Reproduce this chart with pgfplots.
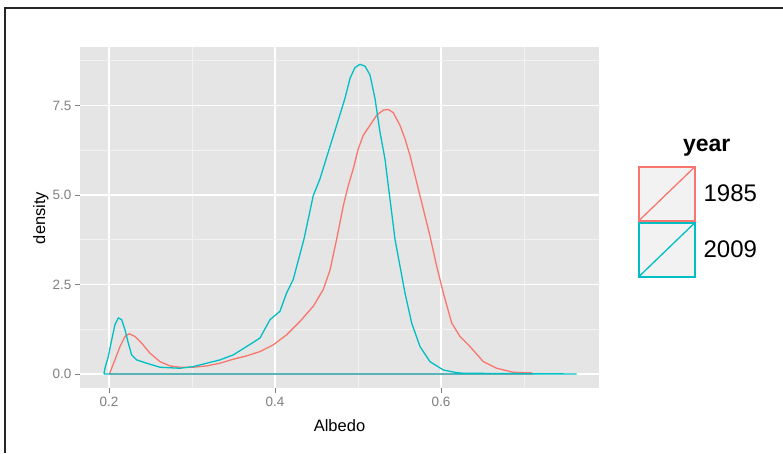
\documentclass[border=0pt]{standalone}
\usepackage{pgfplots}
\pgfplotsset{compat=1.18}
\usepackage{fontspec}
\setmainfont{Liberation Sans}
\definecolor{ggred}{HTML}{F8766D}
\definecolor{ggcyan}{HTML}{00BFC4}
\definecolor{ggbg}{HTML}{E5E5E5}
\definecolor{ggminor}{HTML}{F2F2F2}
\definecolor{ggtick}{HTML}{7F7F7F}
\definecolor{keybg}{HTML}{F2F2F2}
\begin{document}
\begin{tikzpicture}[x=1pt,y=1pt]
\path[use as bounding box] (0,0) rectangle (783,453);
\draw[line width=2pt, black!85] (5,0) -- (5,444.5) -- (783,444.5);
\begin{axis}[
  at={(80pt,64.7pt)}, anchor=south west,
  width=519pt, height=340.8pt, scale only axis,
  xmin=0.1651, xmax=0.7904, ymin=-0.40, ymax=9.12,
  axis background/.style={fill=ggbg},
  axis line style={draw=none},
  xtick pos=bottom, ytick pos=left,
  xtick={0.2,0.4,0.6}, ytick={0,2.5,5,7.5},
  minor xtick={0.3,0.5,0.7}, minor ytick={1.25,3.75,6.25,8.75},
  grid=both,
  major grid style={white, line width=1.3pt},
  minor grid style={ggminor, line width=0.6pt},
  tick align=outside, major tick length=5pt, minor tick length=0pt,
  tick style={ggtick, line width=0.8pt},
  ticklabel style={font=\fontsize{13.5}{16}\selectfont, text=ggtick},
  /pgf/number format/.cd, fixed, fixed zerofill, precision=1, assume math mode=true,
  /pgfplots/.cd,
  xlabel={Albedo}, ylabel={density},
  label style={font=\fontsize{16.5}{19}\selectfont},
  xlabel style={at={(axis description cs:0.5,0)}, anchor=base, yshift=-43.4pt},
  ylabel style={at={(axis description cs:-0.0674,0.5)}, anchor=base},
  legend image code/.code={
    \draw[#1, fill=keybg, line width=1.9pt] (0pt,-27pt) rectangle (56pt,27pt);
    \draw[#1, line width=1.3pt] (0pt,-27pt) -- (56pt,27pt);
  },
  legend style={at={(axis description cs:1.0746,0.6523)}, anchor=north west,
    draw=none, fill=none, inner sep=0pt, outer sep=0pt, row sep=0pt, column sep=8pt,
    font=\fontsize{24}{28}\selectfont, nodes={inner sep=0pt, anchor=west}},
  legend cell align=left,
]
\addplot[ggred, line width=1.3pt] coordinates {
(0.2005,0) (0.2072,0.393) (0.2133,0.767) (0.2193,1.048) (0.2245,1.124) (0.2313,1.048)
(0.2394,0.862) (0.2494,0.581) (0.2614,0.346) (0.2735,0.225) (0.2855,0.188) (0.3016,0.188)
(0.3177,0.225) (0.3337,0.301) (0.3498,0.413) (0.3659,0.506) (0.3819,0.626) (0.3980,0.815)
(0.4141,1.096) (0.4301,1.469) (0.4461,1.890) (0.4582,2.360) (0.4663,2.900) (0.4743,3.764)
(0.4823,4.699) (0.4883,5.261) (0.4943,5.730) (0.5004,6.292) (0.5064,6.666) (0.5145,6.947)
(0.5225,7.228) (0.5305,7.370) (0.5365,7.390) (0.5425,7.300) (0.5506,6.947) (0.5566,6.573)
(0.5627,6.104) (0.5707,5.357) (0.5787,4.607) (0.5867,3.857) (0.5948,3.014) (0.6028,2.267)
(0.6129,1.424) (0.6229,1.048) (0.6349,0.767) (0.6510,0.346) (0.6671,0.160) (0.6871,0.048)
(0.7093,0.030) (0.7100,0) (0.2005,0)
};
\addlegendentry{1985}
\addplot[ggcyan, line width=1.3pt] coordinates {
(0.1940,0) (0.1952,0.169) (0.1992,0.486) (0.2033,0.955) (0.2072,1.376) (0.2112,1.565)
(0.2153,1.517) (0.2193,1.236) (0.2233,0.862) (0.2273,0.534) (0.2334,0.393) (0.2454,0.301)
(0.2614,0.188) (0.2855,0.160) (0.3016,0.205) (0.3177,0.301) (0.3337,0.393) (0.3498,0.534)
(0.3659,0.767) (0.3819,1.003) (0.3940,1.517) (0.4060,1.750) (0.4141,2.267) (0.4220,2.640)
(0.4349,3.764) (0.4461,4.980) (0.4542,5.449) (0.4642,6.199) (0.4743,6.947) (0.4843,7.697)
(0.4904,8.258) (0.4964,8.560) (0.5024,8.650) (0.5084,8.600) (0.5145,8.351) (0.5205,7.697)
(0.5265,6.761) (0.5325,6.011) (0.5365,5.261) (0.5406,4.514) (0.5446,3.764) (0.5506,3.014)
(0.5566,2.267) (0.5647,1.424) (0.5747,0.767) (0.5867,0.346) (0.6028,0.112) (0.6189,0.037)
(0.6269,0.020) (0.7635,0) (0.1940,0)
};
\addlegendentry{2009}
\end{axis}
\node[font=\bfseries\fontsize{23}{27}\selectfont, anchor=base] at (706.7,301.3) {year};
\end{tikzpicture}
\end{document}
